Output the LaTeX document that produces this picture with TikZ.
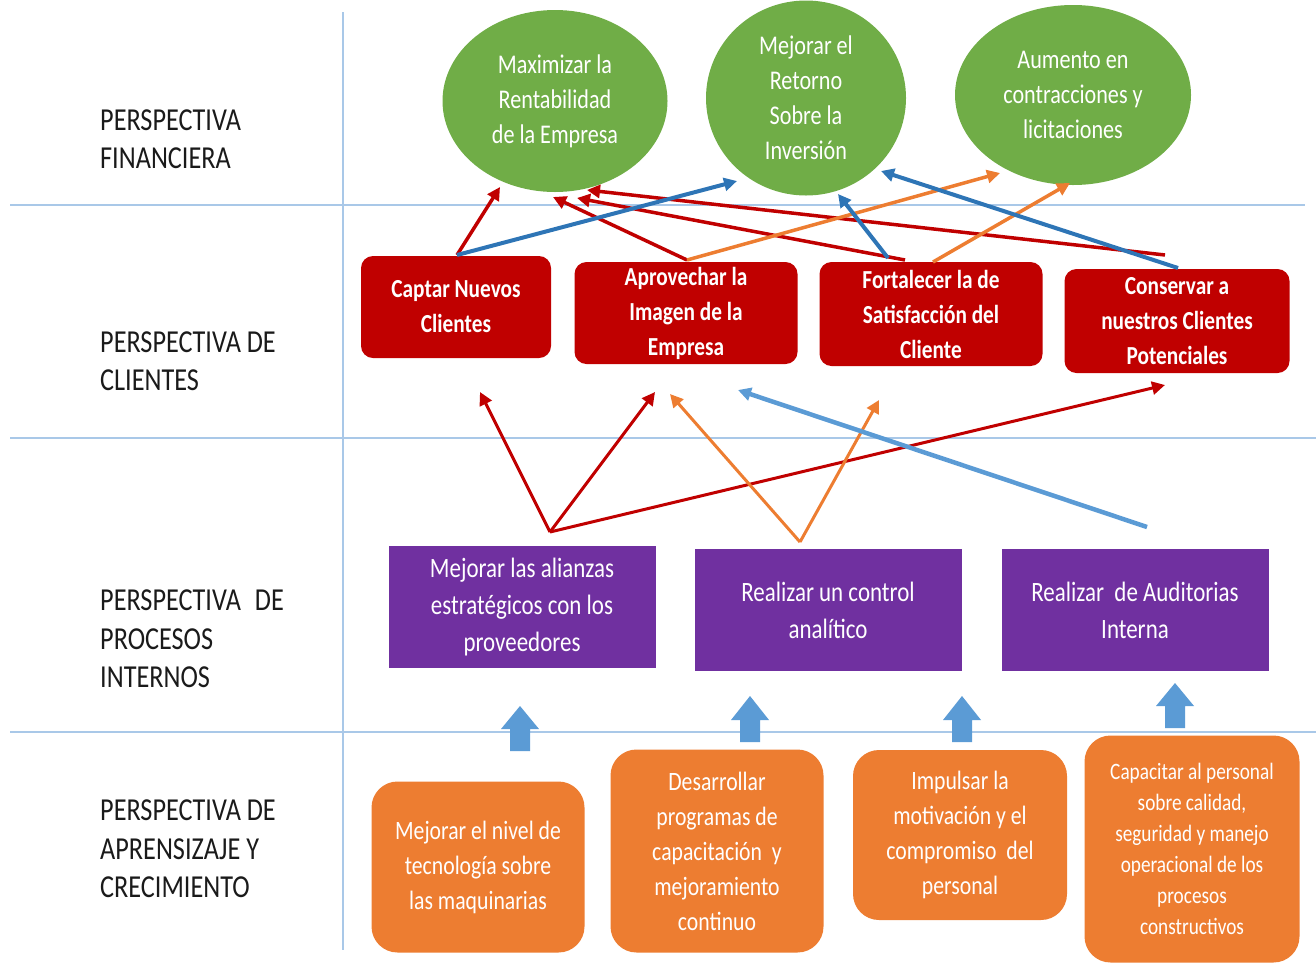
\documentclass[tikz,border=0pt]{standalone}
\usepackage{fontspec}
\setmainfont[FakeStretch=0.82]{Carlito}
\usetikzlibrary{arrows.meta,shapes.geometric}
\definecolor{cgreen}{HTML}{70AD47}
\definecolor{cred}{HTML}{C00000}
\definecolor{cpurple}{HTML}{7030A0}
\definecolor{corange}{HTML}{ED7D31}
\definecolor{cblueA}{HTML}{2E75B6}
\definecolor{cblueB}{HTML}{5B9BD5}
\definecolor{cgrid}{HTML}{A9C8E8}
\definecolor{ctext}{HTML}{1A1A1A}
\begin{document}
\begin{tikzpicture}[x=1pt,y=-1pt,
  grid/.style={draw=cgrid,line width=1.5pt},
  ell/.style={ellipse,fill=cgreen,text=white,align=center,inner sep=0pt,font=\fontsize{27}{35}\selectfont},
  redbox/.style={rectangle,rounded corners=12pt,fill=cred,text=white,align=center,font=\bfseries\fontsize{26}{35}\selectfont},
  purbox/.style={rectangle,fill=cpurple,text=white,align=center,font=\fontsize{28}{37}\selectfont},
  orbox/.style={rectangle,rounded corners=26pt,fill=corange,text=white,align=center,font=\fontsize{26.5}{35}\selectfont},
  lab/.style={anchor=west,align=left,inner sep=0pt,text=ctext,font=\fontsize{32}{38.5}\selectfont},
  conn/.style={line width=3.5pt,-{Triangle[length=13pt,width=13pt]}},
  barrow/.style={fill=cblueB}
]
\useasboundingbox (0,0) rectangle (1316,962);
% grid lines
\draw[grid] (343,12) -- (343,950);
\draw[grid] (10,205) -- (1305,205);
\draw[grid] (10,438) -- (1316,438);
\draw[grid] (10,732) -- (1316,732);
% left labels
\node[lab] (l1) at (100,139) {PERSPECTIVA\\FINANCIERA};
\node[lab] (l2) at (100,361) {PERSPECTIVA DE\\CLIENTES};
\node[lab] (l3) at (100,639) {PERSPECTIVA\hspace{14pt}DE\\PROCESOS\\INTERNOS};
\node[lab] (l4) at (100,849) {PERSPECTIVA DE\\APRENSIZAJE Y\\CRECIMIENTO};
% financial
\node[ell,minimum width=225pt,minimum height=182pt] (e1) at (555,101) {Maximizar la\\Rentabilidad\\de la Empresa};
\node[ell,minimum width=200pt,minimum height=195pt] (e2) at (806,98) {Mejorar el\\Retorno\\Sobre la\\Inversión};
\node[ell,minimum width=236pt,minimum height=180pt] (e3) at (1073,95) {Aumento en\\contracciones y\\licitaciones};
% clients
\node[redbox,minimum width=190pt,minimum height=102pt] (r1) at (456,307) {Captar Nuevos\\Clientes};
\node[redbox,minimum width=223pt,minimum height=102pt] (r2) at (686,313) {Aprovechar la\\Imagen de la\\Empresa};
\node[redbox,minimum width=223pt,minimum height=104pt] (r3) at (931,314) {Fortalecer la de\\Satisfacción del\\Cliente};
\node[redbox,minimum width=225pt,minimum height=104pt] (r4) at (1177,321) {Conservar a\\nuestros Clientes\\Potenciales};
% internal processes
\node[purbox,minimum width=267pt,minimum height=122pt] (p1) at (522,607) {Mejorar las alianzas\\estratégicos con los\\proveedores};
\node[purbox,minimum width=267pt,minimum height=122pt] (p2) at (828,610) {Realizar un control\\analítico};
\node[purbox,minimum width=267pt,minimum height=122pt] (p3) at (1135,610) {Realizar\ \ de Auditorias\\Interna};
% learning
\node[orbox,minimum width=213pt,minimum height=171pt] (o1) at (478,867) {Mejorar el nivel de\\tecnología sobre\\las maquinarias};
\node[orbox,minimum width=213pt,minimum height=203pt] (o2) at (717,851) {Desarrollar\\programas de\\capacitación\ \ y\\mejoramiento\\continuo};
\node[orbox,minimum width=214pt,minimum height=170pt] (o3) at (960,835) {Impulsar la\\motivación y el\\compromiso\ \ del\\personal};
\node[orbox,minimum width=215pt,minimum height=227pt,font=\fontsize{23.5}{31}\selectfont] (o4) at (1192,849) {Capacitar\ al personal\\sobre calidad,\\seguridad y manejo\\operacional de los\\procesos\\constructivos};
% block arrows
\fill[barrow] (510,751) -- (510,729) -- (501,729) -- (520,706) -- (539,729) -- (530,729) -- (530,751) -- cycle;
\fill[barrow] (740,742) -- (740,720) -- (731,720) -- (750,696) -- (769,720) -- (760,720) -- (760,742) -- cycle;
\fill[barrow] (952,742) -- (952,720) -- (943,720) -- (962,696) -- (981,720) -- (972,720) -- (972,742) -- cycle;
\fill[barrow] (1165,728) -- (1165,706) -- (1156,706) -- (1175,683) -- (1194,706) -- (1185,706) -- (1185,728) -- cycle;
% connector anchor coordinates
\coordinate (r1t) at (457,255);
\coordinate (r2t) at (687,260);
\coordinate (r3ta) at (905,260);
\coordinate (r3tb) at (888,258);
\coordinate (r3tc) at (933,262);
\coordinate (r4ta) at (1165,255);
\coordinate (r4tb) at (1178,268);
\coordinate (p1t) at (550,532);
\coordinate (p2t) at (800,542);
\coordinate (p3t) at (1147,527);
\coordinate (e1a) at (500,187);
\coordinate (e1b) at (553,197);
\coordinate (e1c) at (587,190);
\coordinate (e1d) at (577,198);
\coordinate (e2a) at (737,181);
\coordinate (e2b) at (838,194);
\coordinate (e2c) at (881,171);
\coordinate (e3a) at (1000,173);
\coordinate (e3b) at (1070,183);
\coordinate (r1b) at (480,392);
\coordinate (r2b) at (655,392);
\coordinate (r2c) at (670,394);
\coordinate (r2d) at (738,390);
\coordinate (r3b) at (879,400);
\coordinate (r4b) at (1165,385);
% red connectors
\draw[conn,draw=cred,fill=cred] (r1t) -- (e1a);
\draw[conn,draw=cred,fill=cred] (r2t) -- (e1b);
\draw[conn,draw=cred,fill=cred] (r4ta) -- (e1c);
\draw[conn,draw=cred,fill=cred] (r3ta) -- (e1d);
\draw[conn,draw=cred,fill=cred,line width=3pt] (p1t) -- (r1b);
\draw[conn,draw=cred,fill=cred,line width=3pt] (p1t) -- (r2b);
\draw[conn,draw=cred,fill=cred,line width=3pt] (p1t) -- (r4b);
% orange connectors
\draw[conn,draw=corange,fill=corange] (r2t) -- (e3a);
\draw[conn,draw=corange,fill=corange] (r3tc) -- (e3b);
\draw[conn,draw=corange,fill=corange,line width=3pt] (p2t) -- (r2c);
\draw[conn,draw=corange,fill=corange,line width=3pt] (p2t) -- (r3b);
% blue connectors
\draw[conn,draw=cblueA,fill=cblueA,line width=4pt] (r1t) -- (e2a);
\draw[conn,draw=cblueA,fill=cblueA,line width=4pt] (r3tb) -- (e2b);
\draw[conn,draw=cblueA,fill=cblueA,line width=4pt] (r4tb) -- (e2c);
\draw[conn,draw=cblueB,fill=cblueB,line width=4.5pt] (p3t) -- (r2d);
\end{tikzpicture}
\end{document}
